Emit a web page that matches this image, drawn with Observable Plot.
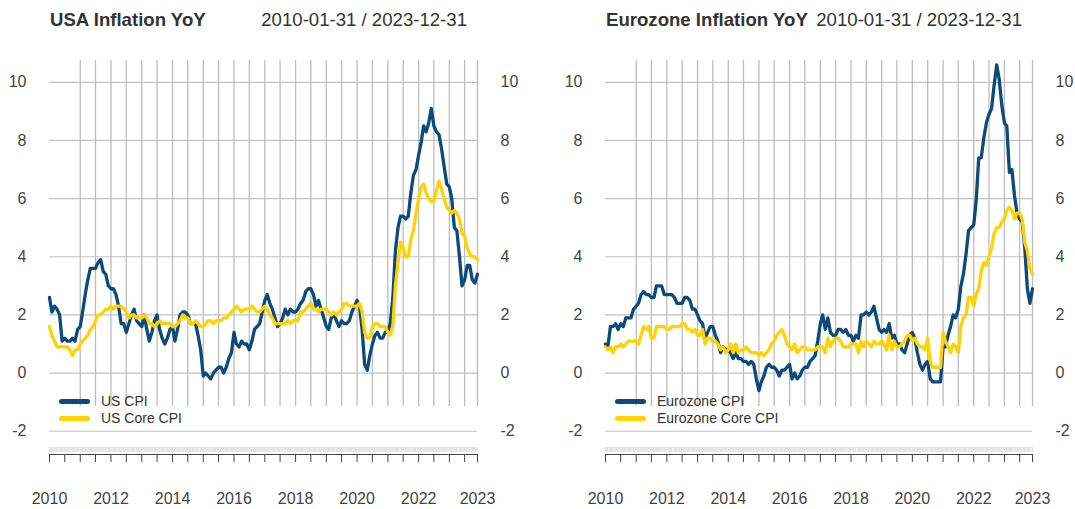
<!DOCTYPE html>
<html><head><meta charset="utf-8">
<script src="https://cdn.jsdelivr.net/npm/d3@7"></script>
<script src="https://cdn.jsdelivr.net/npm/@observablehq/plot@0.6"></script>
<style>
body{margin:0;background:#fff;font-family:"Liberation Sans",Arial,sans-serif;color:#333;}
#wrap{position:relative;width:1075px;height:509px;overflow:hidden;}
.panel{position:absolute;top:0;height:509px;}
.ttl{position:absolute;top:11px;font-size:18.6px;line-height:18.6px;white-space:nowrap;color:#333;}
.ttl.b{font-weight:bold;}
.chart{position:absolute;top:40px;left:0;}
.legend{position:absolute;font-size:14px;line-height:17px;color:#333;}
.legend .row{display:flex;align-items:center;height:17.3px;}
.legend .sw{display:inline-block;width:31px;height:5px;border-radius:3px;margin-right:11px;}
</style></head>
<body><div id="wrap"></div>
<script>
// ---- data ----
const startYear = 2010, nMonths = 168; // 2010-01-31 .. 2023-12-31
const panelTitles = ["USA Inflation YoY", "Eurozone Inflation YoY"];
const dateRangeText = "2010-01-31 / 2023-12-31";
const usNames = ["US CPI", "US Core CPI"];
const ezNames = ["Eurozone CPI", "Eurozone Core CPI"];
const yTicks = [-2, 0, 2, 4, 6, 8, 10];

const usCpi = [
 2.6,2.1,2.3,2.2,2.0,1.1,1.2,1.1,1.1,1.2,1.1,1.5,
 1.6,2.1,2.7,3.2,3.6,3.6,3.6,3.8,3.9,3.5,3.4,3.0,
 2.9,2.9,2.7,2.3,1.7,1.7,1.4,1.7,2.0,2.2,1.8,1.7,
 1.6,2.0,1.5,1.1,1.4,1.8,2.0,1.5,1.2,1.0,1.2,1.5,
 1.6,1.1,1.5,2.0,2.1,2.1,2.0,1.7,1.7,1.7,1.3,0.8,
 -0.1,0.0,-0.1,-0.2,0.0,0.1,0.2,0.2,0.0,0.2,0.5,0.7,
 1.4,1.0,0.9,1.1,1.0,1.0,0.8,1.1,1.5,1.6,1.7,2.1,
 2.5,2.7,2.4,2.2,1.9,1.6,1.7,1.9,2.2,2.0,2.2,2.1,
 2.1,2.2,2.4,2.5,2.8,2.9,2.9,2.7,2.3,2.5,2.2,1.9,
 1.6,1.5,1.9,2.0,1.8,1.6,1.8,1.7,1.7,1.8,2.1,2.3,
 2.5,2.3,1.5,0.3,0.1,0.6,1.0,1.3,1.4,1.2,1.2,1.4,
 1.4,1.7,2.6,4.2,5.0,5.4,5.4,5.3,5.4,6.2,6.8,7.0,
 7.5,7.9,8.5,8.3,8.6,9.1,8.5,8.3,8.2,7.7,7.1,6.5,
 6.4,6.0,5.0,4.9,4.0,3.0,3.2,3.7,3.7,3.2,3.1,3.4
];
const usCore = [
 1.6,1.3,1.1,0.9,0.9,0.9,0.9,0.9,0.8,0.6,0.8,0.8,
 1.0,1.1,1.2,1.3,1.5,1.6,1.8,2.0,2.0,2.1,2.2,2.2,
 2.3,2.2,2.3,2.3,2.3,2.2,2.1,1.9,2.0,2.0,1.9,1.9,
 1.9,2.0,1.9,1.7,1.7,1.6,1.7,1.8,1.7,1.7,1.7,1.7,
 1.6,1.6,1.7,1.8,2.0,1.9,1.9,1.7,1.7,1.8,1.7,1.6,
 1.6,1.7,1.8,1.8,1.7,1.8,1.8,1.8,1.9,1.9,2.0,2.1,
 2.2,2.3,2.2,2.1,2.2,2.2,2.2,2.3,2.2,2.1,2.1,2.2,
 2.3,2.2,2.0,1.9,1.7,1.7,1.7,1.7,1.7,1.8,1.7,1.8,
 1.8,1.8,2.1,2.1,2.2,2.3,2.4,2.2,2.2,2.1,2.2,2.2,
 2.2,2.1,2.0,2.1,2.0,2.1,2.2,2.4,2.4,2.3,2.3,2.3,
 2.3,2.4,2.1,1.4,1.2,1.2,1.6,1.7,1.7,1.6,1.6,1.6,
 1.4,1.3,1.6,3.0,3.8,4.5,4.3,4.0,4.0,4.6,4.9,5.5,
 6.0,6.4,6.5,6.2,6.0,5.9,5.9,6.3,6.6,6.3,6.0,5.7,
 5.6,5.5,5.6,5.5,5.3,4.8,4.7,4.3,4.1,4.0,4.0,3.9
];
const ezCpi = [
 1.0,0.9,1.6,1.6,1.7,1.5,1.7,1.6,1.9,1.9,1.9,2.2,
 2.3,2.4,2.7,2.8,2.7,2.7,2.6,2.6,3.0,3.0,3.0,2.7,
 2.7,2.7,2.7,2.6,2.4,2.4,2.4,2.6,2.6,2.5,2.2,2.2,
 2.0,1.8,1.7,1.2,1.4,1.6,1.6,1.3,1.1,0.7,0.9,0.8,
 0.8,0.7,0.5,0.7,0.5,0.5,0.4,0.4,0.3,0.4,0.3,-0.2,
 -0.6,-0.3,-0.1,0.2,0.3,0.2,0.2,0.1,-0.1,0.1,0.1,0.2,
 0.3,-0.2,0.0,-0.2,-0.1,0.1,0.2,0.2,0.4,0.5,0.6,1.1,
 1.7,2.0,1.5,1.9,1.4,1.3,1.3,1.5,1.5,1.4,1.5,1.3,
 1.3,1.1,1.3,1.2,2.0,2.0,2.1,2.0,2.1,2.3,1.9,1.5,
 1.4,1.5,1.4,1.7,1.2,1.3,1.0,1.0,0.8,0.7,1.0,1.3,
 1.4,1.2,0.7,0.3,0.1,0.3,0.4,-0.2,-0.3,-0.3,-0.3,-0.3,
 0.9,0.9,1.3,1.6,2.0,1.9,2.2,3.0,3.4,4.1,4.9,5.0,
 5.1,5.9,7.4,7.4,8.1,8.6,8.9,9.1,9.9,10.6,10.1,9.2,
 8.6,8.5,6.9,7.0,6.1,5.5,5.3,5.2,4.3,2.9,2.4,2.9
];
const ezCore = [
 0.9,0.8,0.9,0.7,0.9,0.9,1.0,0.9,1.0,1.1,1.1,1.1,
 1.1,1.0,1.3,1.6,1.5,1.6,1.2,1.2,1.6,1.6,1.6,1.6,
 1.5,1.5,1.6,1.6,1.6,1.6,1.7,1.7,1.5,1.5,1.4,1.5,
 1.3,1.3,1.5,1.0,1.2,1.2,1.1,1.1,1.0,0.8,0.9,0.7,
 0.8,1.0,0.7,1.0,0.7,0.8,0.8,0.9,0.8,0.7,0.7,0.7,
 0.6,0.7,0.6,0.7,0.8,1.0,1.1,1.3,1.4,1.5,1.3,1.0,
 0.9,0.8,1.0,0.7,0.8,0.9,0.9,0.8,0.8,0.8,0.8,0.9,
 0.9,0.9,0.7,1.2,0.9,1.1,1.2,1.2,1.1,0.9,0.9,0.9,
 1.0,1.0,1.0,0.7,1.1,0.9,1.1,1.0,0.9,1.1,1.0,1.0,
 1.1,1.0,0.8,1.3,0.8,1.1,0.9,0.9,1.0,1.1,1.3,1.3,
 1.1,1.2,1.0,0.9,0.9,0.8,1.2,0.4,0.2,0.2,0.2,0.2,
 1.4,1.1,0.9,0.7,1.0,0.9,0.7,1.6,1.9,2.0,2.6,2.6,
 2.3,2.7,2.9,3.5,3.8,3.7,4.0,4.3,4.8,5.0,5.0,5.2,
 5.3,5.6,5.7,5.6,5.3,5.5,5.5,5.3,4.5,4.2,3.6,3.4
];
const seriesColors = ["#0b4a7b", "#ffd200"];

// ---- layout / scale settings ----
const yDomain = [-2.8, 10.75];
const gridSpan = [10.75, -1.15];
const svgH = 469;
const font = "'Liberation Sans', Arial, sans-serif";

const dates = d3.range(nMonths).map(i => new Date(Date.UTC(startYear, i + 1, 0)));
const last = dates[dates.length - 1];
const tickDates = dates.filter((d, i) => i % 6 === 0).concat([last]);
const gridDates = dates.filter((d, i) => i % 6 === 0 && i >= 12).concat([last]);
const labelDates = dates.filter((d, i) => i % 24 === 0).concat([last]);
const minorDates = d3.utcDay.every(12).range(dates[0], last).concat([last]);

function makeChart(cpi, core, names, width, marginLeft, marginRight) {
  const rows = [];
  dates.forEach((d, i) => rows.push({date: d, value: cpi[i], series: names[0]}));
  dates.forEach((d, i) => rows.push({date: d, value: core[i], series: names[1]}));
  return Plot.plot({
    width, height: svgH, marginLeft, marginRight, marginTop: 20, marginBottom: 55,
    style: {fontFamily: font, fontSize: "16px", color: "#444", background: "white", overflow: "visible"},
    x: {type: "utc", domain: [dates[0], last]},
    y: {domain: yDomain},
    color: {domain: names, range: seriesColors},
    marks: [
      Plot.ruleY(yTicks, {stroke: "#c2c2c2", strokeWidth: 1.2}),
      Plot.ruleX(gridDates, {y1: gridSpan[0], y2: gridSpan[1], stroke: "#bdbdbd", strokeWidth: 1.3}),
      Plot.ruleY([yDomain[0]], {stroke: "#444", strokeWidth: 1}),
      Plot.axisX(minorDates, {anchor: "bottom", tickSize: 5, dy: -7, stroke: "#dedede", strokeWidth: 0.8, fill: "none", label: null}),
      Plot.axisX(tickDates, {anchor: "bottom", tickSize: 8, stroke: "#444", fill: "none", label: null}),
      Plot.axisX(labelDates, {anchor: "bottom", tickSize: 0, tickPadding: 38, tickFormat: d => String(d.getUTCFullYear()), fontSize: 16, fill: "#444", label: null}),
      Plot.axisY(yTicks, {anchor: "left", tickSize: 0, tickPadding: 23, tickFormat: d => String(d), fontSize: 16, fill: "#444", label: null}),
      Plot.axisY(yTicks, {anchor: "right", tickSize: 0, tickPadding: 23, tickFormat: d => String(d), fontSize: 16, fill: "#444", label: null}),
      Plot.lineY(rows, {x: "date", y: "value", stroke: "series", z: "series", strokeWidth: 3.3, strokeLinejoin: "round", strokeLinecap: "round"})
    ]
  });
}

const wrap = document.getElementById("wrap");
function addPanel(left, width, marginLeft, marginRight, title, titleX, dateRight, cpi, core, names, legendX) {
  const p = document.createElement("div");
  p.className = "panel";
  p.style.left = left + "px";
  p.style.width = width + "px";
  const t = document.createElement("div");
  t.className = "ttl b"; t.style.left = titleX + "px"; t.textContent = title;
  const dr = document.createElement("div");
  dr.className = "ttl"; dr.style.right = dateRight + "px"; dr.textContent = dateRangeText;
  const c = document.createElement("div");
  c.className = "chart";
  c.appendChild(makeChart(cpi, core, names, width, marginLeft, marginRight));
  const lg = document.createElement("div");
  lg.className = "legend"; lg.style.left = legendX + "px"; lg.style.top = "393px";
  names.forEach((n, i) => {
    const r = document.createElement("div"); r.className = "row";
    const sw = document.createElement("span"); sw.className = "sw"; sw.style.background = seriesColors[i];
    const tx = document.createElement("span"); tx.textContent = n;
    r.appendChild(sw); r.appendChild(tx); lg.appendChild(r);
  });
  p.appendChild(t); p.appendChild(dr); p.appendChild(c); p.appendChild(lg);
  wrap.appendChild(p);
}
addPanel(0, 537, 49, 60, panelTitles[0], 50, 70, usCpi, usCore, usNames, 59);
addPanel(537, 538, 68, 43, panelTitles[1], 69, 53, ezCpi, ezCore, ezNames, 78);
</script></body></html>
